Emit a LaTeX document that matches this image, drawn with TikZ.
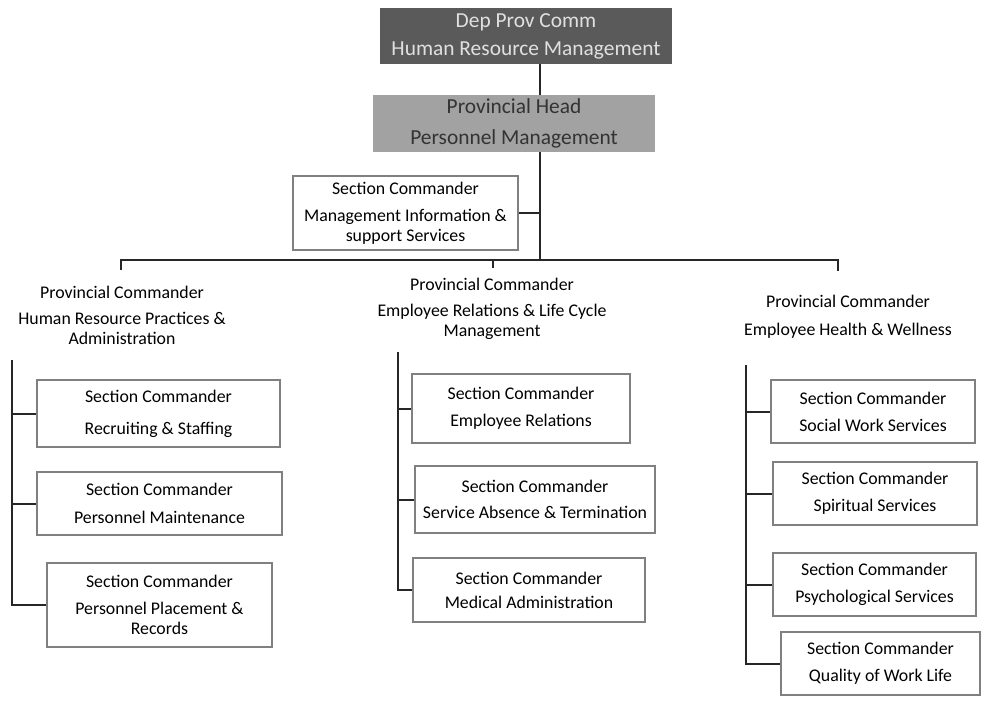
\documentclass[tikz,border=0pt]{standalone}
\usepackage{fontspec}
\setmainfont{Carlito}
\usepackage{xcolor}
\usetikzlibrary{positioning,calc}

\definecolor{topgray}{HTML}{5A5A5A}
\definecolor{midgray}{HTML}{A2A2A2}

\begin{document}
\begin{tikzpicture}[
  x=1pt, y=-1pt,
  font=\fontsize{17.8}{20}\selectfont,
  headbox/.style={align=center, inner sep=0pt, font=\fontsize{21.4}{24}\selectfont},
  secbox/.style={draw=black!50, line width=2.8pt, fill=white, align=center, inner sep=0pt},
  group/.style={align=center, inner sep=0pt},
  link/.style={line width=2pt, black!85},
]
\useasboundingbox (0,0) rectangle (985,708);

% top of the chart
\node[headbox, fill=topgray, text=white!88!black, minimum width=292, minimum height=56] (dep) at (526,36) {Dep Prov Comm\\[4pt]Human Resource Management};
\node[headbox, fill=midgray, text=black!80, minimum width=282, minimum height=57] (head) at (514,123.5) {Provincial Head\\[7pt]Personnel Management};
\node[secbox, minimum width=225, minimum height=74] (mis) at (405.5,213) {Section Commander\\[7pt]Management Information \&\\support Services};

% provincial commanders
\node[group] (hrp) at (122,315) {Provincial Commander\\[6pt]Human Resource Practices \&\\Administration};
\node[group] (erl) at (492,309) {Provincial Commander\\[6pt]Employee Relations \& Life Cycle\\Management};
\node[group] (ehw) at (848,317) {Provincial Commander\\[8pt]Employee Health \& Wellness};

% sections, left
\node[secbox, minimum width=243, minimum height=67] (rec) at (158.5,413.5) {Section Commander\\[12pt]Recruiting \& Staffing};
\node[secbox, minimum width=245, minimum height=63] (mnt) at (159.5,503.5) {Section Commander\\[8pt]Personnel Maintenance};
\node[secbox, minimum width=225, minimum height=84] (plc) at (159.5,605) {Section Commander\\[7pt]Personnel Placement \&\\Records};

% sections, middle
\node[secbox, minimum width=218, minimum height=69] (rel) at (521,408.5) {Section Commander\\[7pt]Employee Relations};
\node[secbox, minimum width=240, minimum height=67] (abs) at (535,499.5) {Section Commander\\[6pt]Service Absence \& Termination};
\node[secbox, minimum width=232, minimum height=64] (med) at (529,590) {Section Commander\\[4pt]Medical Administration};

% sections, right
\node[secbox, minimum width=204, minimum height=63] (soc) at (873,411.5) {Section Commander\\[7pt]Social Work Services};
\node[secbox, minimum width=204, minimum height=63] (spi) at (875,493.5) {Section Commander\\[7pt]Spiritual Services};
\node[secbox, minimum width=203, minimum height=63] (psy) at (874.5,584.5) {Section Commander\\[7pt]Psychological Services};
\node[secbox, minimum width=199, minimum height=63] (qwl) at (880.5,663.5) {Section Commander\\[7pt]Quality of Work Life};

% junction points
\coordinate (spine) at (540,260);
\coordinate (barL) at (121,260);
\coordinate (barR) at (838,260);
\coordinate (barM) at (493,260);
\coordinate (tickL) at (121,270);
\coordinate (tickR) at (838,271);
\coordinate (tickM) at (493,268);
\coordinate (hrpTop) at (12,360);
\coordinate (erlTop) at (398,352);
\coordinate (ehwTop) at (746,365);

\draw[link] (dep.south -| spine) -- (head.north -| spine);
\draw[link] (head.south -| spine) -- (spine);
\draw[link] (mis.east) -- (mis.east -| spine);
\draw[link] (tickL) -- (barL) -- (barR) -- (tickR);
\draw[link] (barM) -- (tickM);

\draw[link] (hrpTop) |- (plc.west);
\draw[link] (rec.west) -- (rec.west -| hrpTop);
\draw[link] (mnt.west) -- (mnt.west -| hrpTop);

\draw[link] (erlTop) |- (med.west);
\draw[link] (rel.west) -- (rel.west -| erlTop);
\draw[link] (abs.west) -- (abs.west -| erlTop);

\draw[link] (ehwTop) |- (qwl.west);
\draw[link] (soc.west) -- (soc.west -| ehwTop);
\draw[link] (spi.west) -- (spi.west -| ehwTop);
\draw[link] (psy.west) -- (psy.west -| ehwTop);

\end{tikzpicture}
\end{document}
